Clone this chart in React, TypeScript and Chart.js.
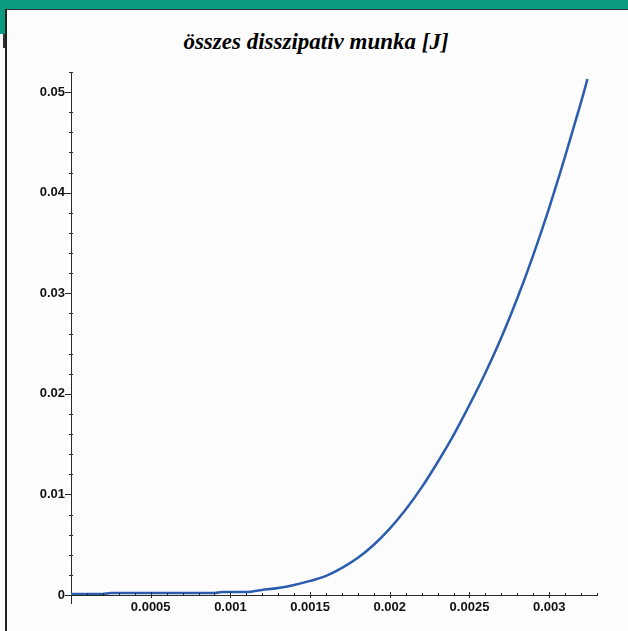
import React, { useEffect, useRef } from 'react';
import { Chart, registerables } from 'chart.js';

Chart.register(...registerables);

const titleText = 'összes disszipativ munka [J]';

const xValues = [
  0, 0.0001, 0.0002, 0.00025, 0.0003, 0.0005, 0.0007, 0.0009, 0.00095, 0.001,
  0.0011, 0.0012, 0.0013, 0.0014, 0.0015, 0.0016, 0.0017, 0.0018, 0.0019, 0.002,
  0.0021, 0.0022, 0.0023, 0.0024, 0.0025, 0.0026, 0.0027, 0.0028, 0.0029, 0.003,
  0.0031, 0.0032, 0.00324,
];
const yValues = [
  0.0001, 0.0001, 0.0001, 0.0002, 0.0002, 0.0002, 0.0002, 0.0002, 0.0003, 0.0003,
  0.0003, 0.0005, 0.0007, 0.001, 0.0014, 0.0019, 0.0027, 0.0037, 0.005, 0.0066,
  0.0085, 0.0107, 0.0132, 0.0159, 0.0189, 0.0221, 0.0256, 0.0295, 0.0338, 0.0385,
  0.0436, 0.049, 0.0513,
];

const xTickValues = [0.0005, 0.001, 0.0015, 0.002, 0.0025, 0.003];
const xTickLabels = ['0.0005', '0.001', '0.0015', '0.002', '0.0025', '0.003'];
const yTickValues = [0, 0.01, 0.02, 0.03, 0.04, 0.05];
const yTickLabels = ['0', '0.01', '0.02', '0.03', '0.04', '0.05'];
const xMinorTicks = [
  0.0001, 0.0002, 0.0003, 0.0004, 0.0006, 0.0007, 0.0008, 0.0009, 0.0011, 0.0012,
  0.0013, 0.0014, 0.0016, 0.0017, 0.0018, 0.0019, 0.0021, 0.0022, 0.0023, 0.0024,
  0.0026, 0.0027, 0.0028, 0.0029, 0.0031, 0.0032, 0.0033,
];
const yMinorTicks = [
  0.002, 0.004, 0.006, 0.008, 0.012, 0.014, 0.016, 0.018, 0.022, 0.024, 0.026, 0.028,
  0.032, 0.034, 0.036, 0.038, 0.042, 0.044, 0.046, 0.048, 0.052,
];

const axisColor = '#2a2a2a';

const tickMarksPlugin = {
  id: 'tickMarks',
  afterDraw(chart: any) {
    const ctx = chart.ctx;
    const xs = chart.scales.x;
    const ys = chart.scales.y;
    const left = chart.chartArea.left;
    const bottom = chart.chartArea.bottom;
    ctx.save();
    ctx.strokeStyle = axisColor;
    ctx.lineWidth = 1;
    ctx.beginPath();
    ctx.moveTo(left + 0.5, bottom);
    ctx.lineTo(left + 0.5, bottom + 9);
    yTickValues.forEach((v) => {
      const p = Math.round(ys.getPixelForValue(v)) + 0.5;
      ctx.moveTo(left - 6, p);
      ctx.lineTo(left, p);
    });
    yMinorTicks.forEach((v) => {
      const p = Math.round(ys.getPixelForValue(v)) + 0.5;
      ctx.moveTo(left - 2, p);
      ctx.lineTo(left + 2, p);
    });
    xTickValues.forEach((v) => {
      const p = Math.round(xs.getPixelForValue(v)) + 0.5;
      ctx.moveTo(p, bottom - 3);
      ctx.lineTo(p, bottom + 3);
    });
    xMinorTicks.forEach((v) => {
      const p = Math.round(xs.getPixelForValue(v)) + 0.5;
      ctx.moveTo(p, bottom - 2);
      ctx.lineTo(p, bottom + 1);
    });
    ctx.stroke();
    ctx.restore();
  },
};

export default function App() {
  const canvasRef = useRef<HTMLCanvasElement | null>(null);

  useEffect(() => {
    document.body.style.margin = '0';
    const canvas = canvasRef.current;
    if (!canvas) return;
    const points = xValues.map((x, i) => ({ x, y: yValues[i] }));
    const tickFont = { family: '"Liberation Sans", Arial, sans-serif', size: 13, weight: 'bold' as const };
    const chart = new Chart(canvas, {
      type: 'scatter',
      data: {
        datasets: [
          {
            data: points,
            showLine: true,
            borderColor: '#2b5cae',
            backgroundColor: '#2b5cae',
            borderWidth: 2.5,
            pointRadius: 0,
            cubicInterpolationMode: 'monotone',
            fill: false,
          },
        ],
      },
      options: {
        animation: false,
        responsive: false,
        layout: { padding: { top: 72, right: 31, bottom: 0, left: 0 } },
        plugins: {
          legend: { display: false },
          tooltip: { enabled: false },
          title: { display: false },
        },
        scales: {
          x: {
            type: 'linear',
            min: 0,
            max: 0.0033,
            afterFit: (scale: any) => {
              scale.height = 36;
            },
            afterBuildTicks: (scale: any) => {
              scale.ticks = xTickValues.map((v) => ({ value: v }));
            },
            ticks: {
              autoSkip: false,
              maxRotation: 0,
              includeBounds: false,
              padding: 5,
              color: '#111',
              font: tickFont,
              callback: (_v: any, i: number) => xTickLabels[i],
            },
            grid: { display: true, drawOnChartArea: false, drawTicks: false, color: 'rgba(0,0,0,0)' },
            border: { display: true, color: axisColor, width: 1 },
          },
          y: {
            type: 'linear',
            min: 0,
            max: 0.052,
            afterFit: (scale: any) => {
              scale.width = 71;
            },
            afterBuildTicks: (scale: any) => {
              scale.ticks = yTickValues.map((v) => ({ value: v }));
            },
            ticks: {
              autoSkip: false,
              includeBounds: false,
              padding: 6,
              color: '#111',
              font: tickFont,
              callback: (_v: any, i: number) => yTickLabels[i],
            },
            grid: { display: true, drawOnChartArea: false, drawTicks: false, color: 'rgba(0,0,0,0)' },
            border: { display: true, color: axisColor, width: 1 },
          },
        },
      },
      plugins: [tickMarksPlugin],
    } as any);
    return () => chart.destroy();
  }, []);

  return (
    <div style={{ position: 'relative', width: 628, height: 631, background: '#fdfdfd', overflow: 'hidden' }}>
      <div style={{ position: 'absolute', left: 0, top: 0, width: 628, height: 9, background: '#0b9a82' }} />
      <div style={{ position: 'absolute', left: 0, top: 9, width: 5, height: 25, background: '#0b9a82' }} />
      <div style={{ position: 'absolute', left: 3, top: 34, width: 2, height: 14, background: '#333' }} />
      <div style={{ position: 'absolute', left: 5, top: 9, width: 623, height: 1, background: '#333' }} />
      <div style={{ position: 'absolute', left: 5, top: 9, width: 2, height: 622, background: '#222' }} />
      <div
        style={{
          position: 'absolute',
          left: 0,
          width: 632,
          top: 27,
          textAlign: 'center',
          fontFamily: '"Liberation Serif", "Times New Roman", serif',
          fontStyle: 'italic',
          fontWeight: 'bold',
          fontSize: 23,
          lineHeight: '30px',
          color: '#000',
          whiteSpace: 'nowrap',
        }}
      >
        {titleText}
      </div>
      <canvas ref={canvasRef} width={628} height={631} style={{ position: 'absolute', left: 0, top: 0 }} />
    </div>
  );
}
